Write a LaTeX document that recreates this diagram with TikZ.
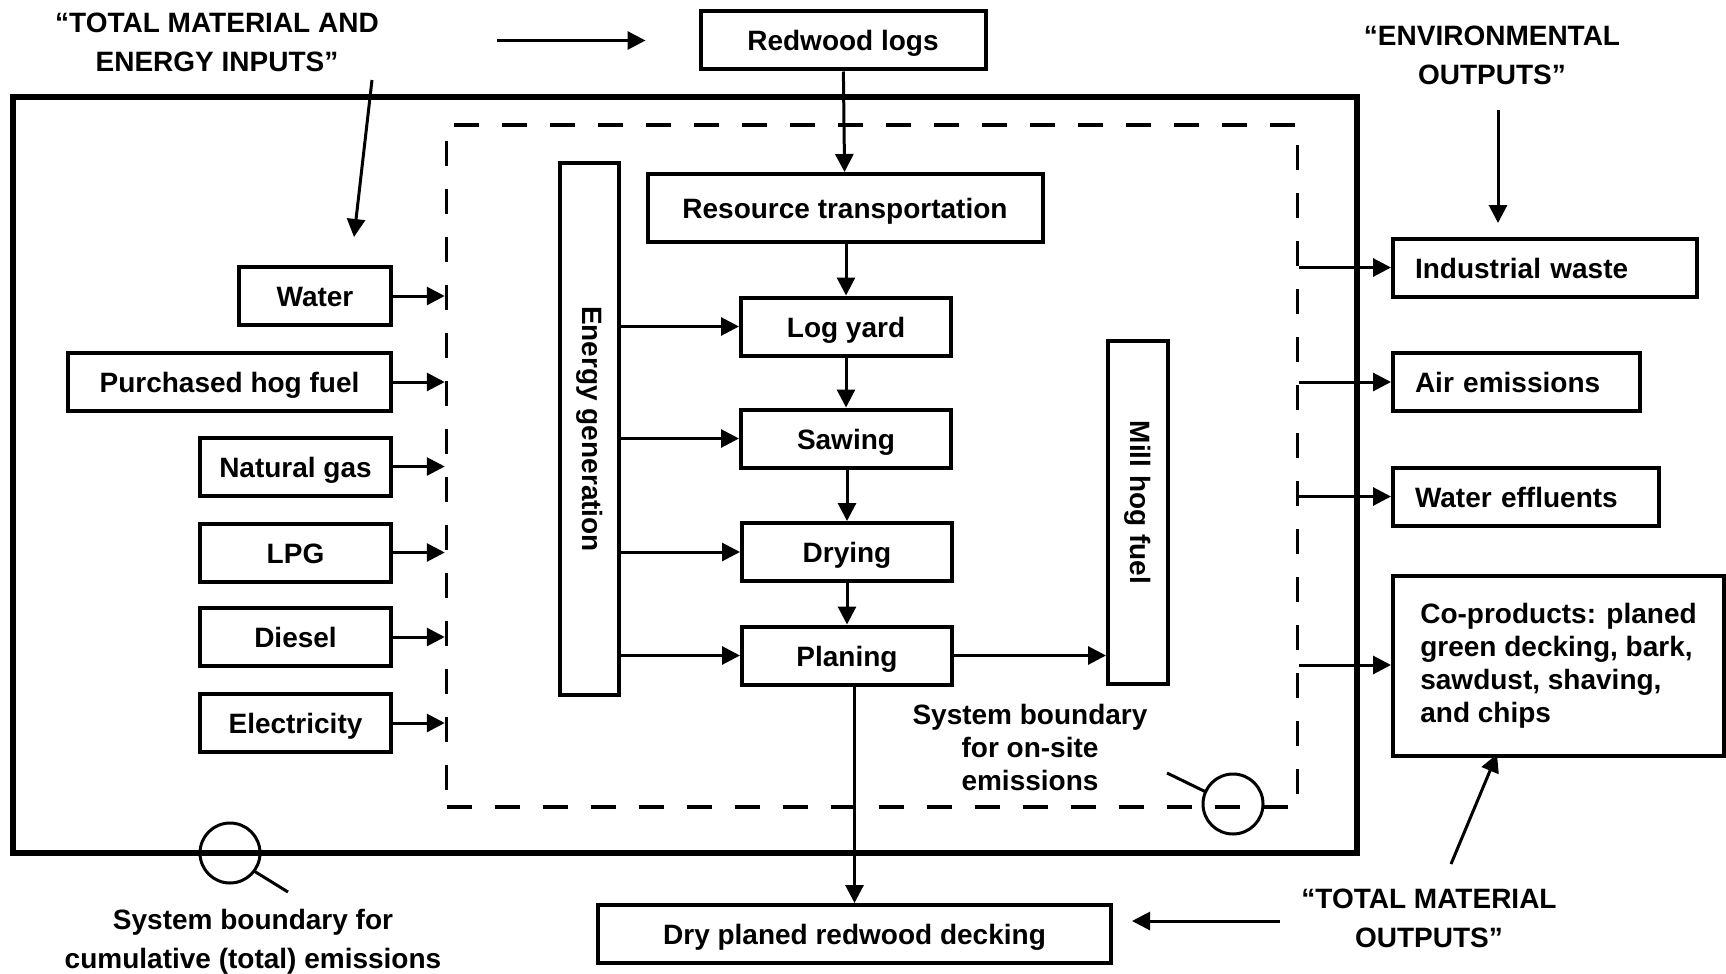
\documentclass[tikz,border=0pt]{standalone}
\usepackage{fontspec}
\setmainfont{Liberation Sans}
\usepackage{graphicx}
\usepackage{tikz}
\usetikzlibrary{arrows.meta,positioning}

\begin{document}
\begin{tikzpicture}[x=1pt,y=1pt,yscale=-1,xscale=1,
	font=\fontsize{28}{33}\selectfont\bfseries,
	frame/.style={draw,line width=4pt,inner sep=0pt},
	box/.style={frame,minimum height=58pt,text height=21pt,text depth=0pt},
	outbox/.style={box,align=left,inner xsep=22pt,text width=#1},
	arr/.style={line width=3pt,-{Triangle[length=18pt,width=18pt]}},
	quote/.style={align=center,font=\fontsize{28}{39}\selectfont\bfseries},
	lens/.style={line width=3pt}]
	\useasboundingbox (0,0) rectangle (1726,974);
	
	%Shape: Rectangle (cumulative boundary)
	\node [frame,line width=6pt,minimum width=1344pt,minimum height=756pt] (cumul) at (685,475) {};
	%Shape: Rectangle (on-site boundary)
	\node [frame,line width=3.5pt,dash pattern=on 25pt off 23pt,minimum width=851pt,minimum height=682pt] (onsite) at (872,466) {};
	
	% Text Node
	\node [quote] (inputs) at (217,42) {“TOTAL MATERIAL AND\\ENERGY INPUTS”};
	% Text Node
	\node [quote] (envout) at (1492,55) {“ENVIRONMENTAL\\OUTPUTS”};
	% Text Node
	\node [quote] (matout) at (1429,918) {“TOTAL MATERIAL\\OUTPUTS”};
	
	% Process chain
	\node [box,minimum width=285pt] (redwood) at (843,40.5) {Redwood logs};
	\node [box,minimum width=395pt,minimum height=68pt] (transport) at (845,208) {Resource transportation};
	\node [box,minimum width=210pt] (logyard) at (846,326.5) {Log yard};
	\node [box,minimum width=210pt] (sawing) at (846,438.5) {Sawing};
	\node [box,minimum width=210pt] (drying) at (847,552) {Drying};
	\node [box,minimum width=210pt] (planing) at (847,655.5) {Planing};
	\node [box,minimum width=513pt] (decking) at (854.5,934) {Dry planed redwood decking};
	\node [frame,minimum width=59pt,minimum height=532pt] (energy) at (589.5,429) {\rotatebox{-90}{Energy generation}};
	\node [frame,minimum width=60pt,minimum height=343pt] (millhog) at (1138,512.5) {\raisebox{10pt}[\height][\depth]{\rotatebox{-90}{Mill hog fuel}}};
	
	% Inputs
	\node [box,minimum width=152pt] (water) at (315,296) {Water};
	\node [box,minimum width=323pt] (hogfuel) at (229.5,382) {Purchased hog fuel};
	\node [box,minimum width=191pt] (natgas) at (295.5,466.5) {Natural gas};
	\node [box,minimum width=191pt] (lpg) at (295.5,552.5) {LPG};
	\node [box,minimum width=191pt] (diesel) at (295.5,637) {Diesel};
	\node [box,minimum width=191pt] (elec) at (295.5,723) {Electricity};
	
	% Outputs
	\node [outbox=260pt] (indwaste) at (1545,267.5) {Industrial waste};
	\node [outbox=203pt] (airem) at (1516.5,382) {Air emissions};
	\node [outbox=222pt] (watereff) at (1526,496.5) {Water effluents};
	\node [frame,align=left,minimum width=331pt,minimum height=180pt] (coprod) at (1558.5,666) {Co-products: planed\\green decking, bark,\\sawdust, shaving,\\and chips};
	
	% Text Node
	\node [align=center] (onsitelbl) at (1030,747) {System boundary\\for on-site\\emissions};
	% Text Node
	\node [quote] (cumullbl) at (253,942) {System boundary for\\cumulative (total) emissions};
	
	%Straight Lines
	\draw [arr] (redwood) -- (transport);
	\draw [arr] (transport.south) -- (transport.south -| logyard.north) -- (logyard.north);
	\draw [arr] (logyard) -- (sawing);
	\draw [arr] (sawing.south) -- (sawing.south -| drying.north) -- (drying.north);
	\draw [arr] (drying) -- (planing);
	\draw [arr] (decking.north |- planing.south) -- (decking.north);
	\draw [arr] (planing.east) -- (millhog.west |- planing.east);
	\foreach \p in {logyard,sawing,drying,planing}
		\draw [arr] (energy.east |- \p.west) -- (\p.west);
	\foreach \s in {water,hogfuel,natgas,lpg,diesel,elec}
		\draw [arr] (\s.east) -- (\s.east -| onsite.west);
	\foreach \t in {indwaste,airem,watereff}
		\draw [arr] (onsite.east |- \t.west) -- (\t.west);
	\draw [arr] (onsite.east |- 0,665) -- (coprod.west |- 0,665);
	
	% Free arrows from the labels
	\coordinate (inA) at (372,80);
	\coordinate (inB) at (354,237);
	\coordinate (envA) at (1498,110);
	\coordinate (envB) at (1498,223);
	\coordinate (matA) at (1451,864);
	\coordinate (matB) at (1497,754);
	\coordinate (matC) at (1280,921);
	\draw [arr] (inputs.east |- redwood.west) ++(115,0) -- ([xshift=-53pt]redwood.west);
	\draw [arr] (inA) -- (inB);
	\draw [arr] (envA) -- (envB);
	\draw [arr] (matA) -- (matB);
	\draw [arr] (matC) -- ([xshift=19pt]decking.east |- matC);
	
	% Magnifiers
	\draw [lens] (1233,804) circle (30);
	\draw [lens] (1167,773) -- (1206,792);
	\draw [lens] (230,853) circle (30);
	\draw [lens] (254,871) -- (288,892);
	
\end{tikzpicture}
\end{document}
